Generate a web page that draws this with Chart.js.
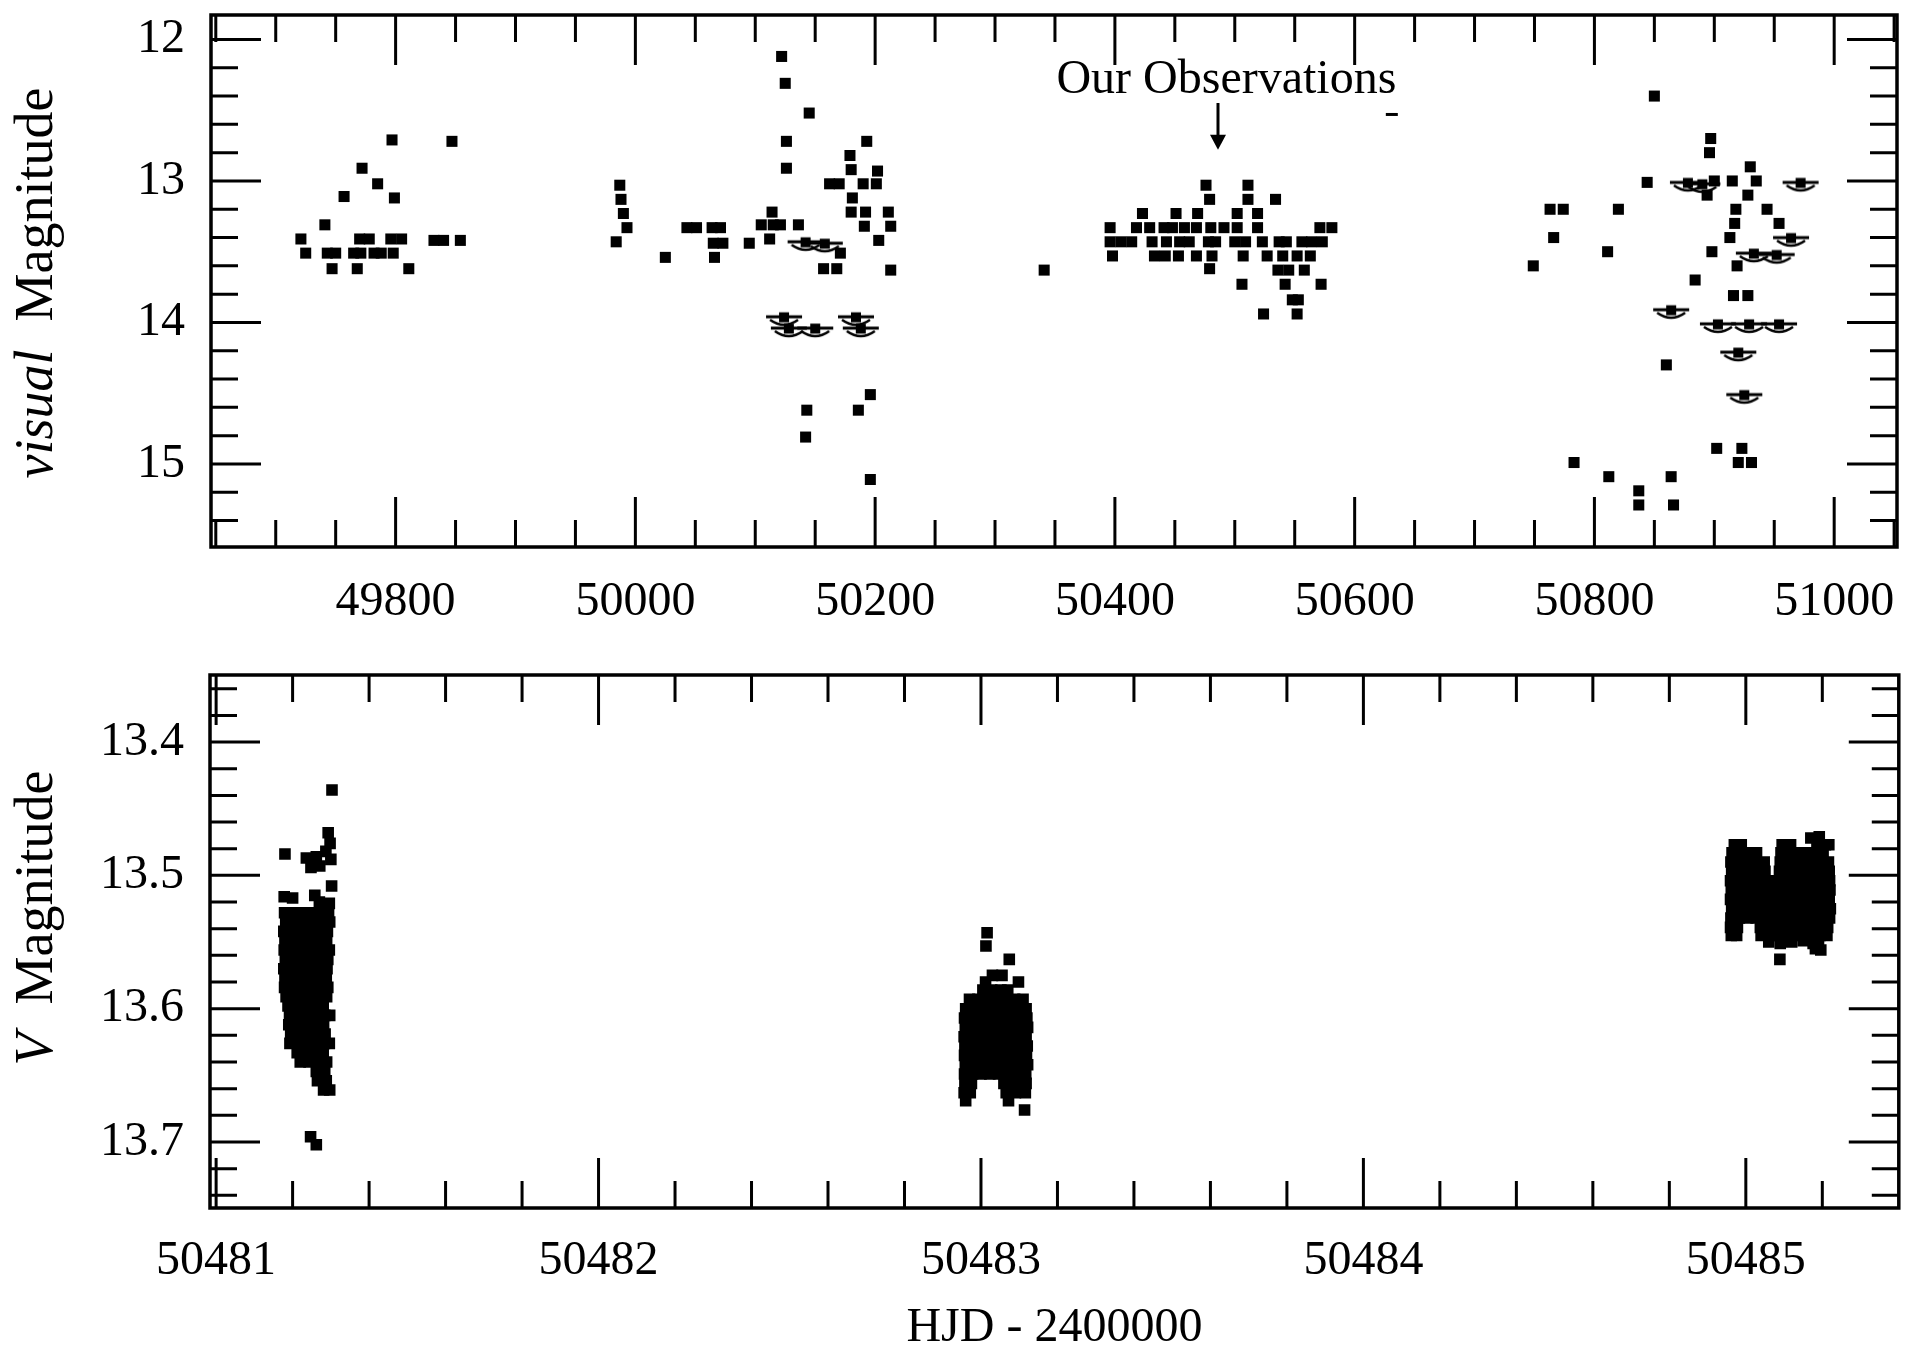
<!DOCTYPE html>
<html>
<head>
<meta charset="utf-8">
<script src="https://cdn.jsdelivr.net/npm/chart.js@4.4.1/dist/chart.umd.min.js"></script>
<style>
  html, body { margin: 0; padding: 0; background: #fff; }
  #wrap { position: relative; width: 1907px; height: 1353px; }
  canvas { position: absolute; left: 0; }
  #top { top: 0; }
  #bottom { top: 650px; }
</style>
</head>
<body>
<div id="wrap">
  <canvas id="top" width="1907" height="650"></canvas>
  <canvas id="bottom" width="1907" height="703"></canvas>
</div>
<script>
// visual estimates, HJD - 2400000
let visualHjd = [
  49797, 49847, 49772, 49785, 49757, 49799, 49741,
  49721, 49770, 49778, 49796, 49805, 49832, 49840, 49854,
  49725, 49743, 49750, 49765, 49771, 49782, 49788, 49798,
  49747, 49768, 49811,
  49987, 49988, 49990, 49993, 49984, 50025, 50043, 50051, 50064, 50071, 50065, 50073, 50095, 50066,
  50122, 50125, 50145, 50126, 50126, 50193, 50179, 50180, 50202,
  50162, 50170, 50190, 50201, 50181, 50114, 50180, 50192, 50211,
  50105, 50115, 50121, 50136, 50191, 50213, 50112, 50203, 50171, 50157, 50168, 50213,
  50196, 50143, 50186, 50142, 50196, 50341,
  50476, 50511, 50479, 50511, 50534,
  50423, 50451, 50469, 50502, 50519,
  50396, 50418, 50429, 50441, 50448, 50458, 50468, 50480, 50491, 50502, 50519, 50571, 50581,
  50396, 50405, 50414, 50431, 50443, 50454, 50462, 50478, 50484, 50500, 50509, 50523, 50537, 50543, 50556, 50564, 50573,
  50398, 50433, 50442, 50453, 50468, 50481, 50507, 50527, 50540, 50552, 50563,
  50479, 50536, 50545, 50558, 50506, 50542, 50572, 50548, 50553, 50524, 50552,
  50850, 50897, 50896, 50930, 50844, 50900, 50915, 50935, 50894, 50928,
  50763, 50774, 50820, 50918, 50944, 50917, 50954, 50766, 50913, 50811, 50898,
  50749, 50919, 50884, 50916, 50928, 50860,
  50902, 50923, 50783, 50920, 50931, 50812, 50864, 50837, 50837, 50866
];
let visualMag = [
  12.71, 12.72, 12.91, 13.02, 13.11, 13.12, 13.31,
  13.41, 13.41, 13.41, 13.41, 13.41, 13.42, 13.42, 13.42,
  13.51, 13.51, 13.51, 13.51, 13.51, 13.51, 13.51, 13.51,
  13.62, 13.62, 13.62,
  13.03, 13.13, 13.23, 13.33, 13.43, 13.54, 13.33, 13.33, 13.33, 13.33, 13.44, 13.44, 13.44, 13.54,
  12.12, 12.31, 12.52, 12.72, 12.91, 12.72, 12.82, 12.92, 12.93,
  13.02, 13.02, 13.02, 13.02, 13.12, 13.22, 13.22, 13.22, 13.22,
  13.31, 13.31, 13.31, 13.31, 13.32, 13.32, 13.41, 13.42, 13.51, 13.62, 13.62, 13.63,
  14.51, 14.62, 14.62, 14.81, 15.11, 13.63,
  13.03, 13.03, 13.13, 13.13, 13.13,
  13.23, 13.23, 13.23, 13.23, 13.23,
  13.33, 13.33, 13.33, 13.33, 13.33, 13.33, 13.33, 13.33, 13.33, 13.33, 13.33, 13.33, 13.33,
  13.43, 13.43, 13.43, 13.43, 13.43, 13.43, 13.43, 13.43, 13.43, 13.43, 13.43, 13.43, 13.43, 13.43, 13.43, 13.43, 13.43,
  13.53, 13.53, 13.53, 13.53, 13.53, 13.53, 13.53, 13.53, 13.53, 13.53, 13.53,
  13.62, 13.63, 13.63, 13.63, 13.73, 13.73, 13.73, 13.84, 13.84, 13.94, 13.94,
  12.40, 12.70, 12.80, 12.90, 13.01, 13.00, 13.00, 13.00, 13.10, 13.10,
  13.20, 13.20, 13.20, 13.20, 13.20, 13.30, 13.30, 13.40, 13.40, 13.50, 13.50,
  13.60, 13.60, 13.70, 13.81, 13.81, 14.30,
  14.89, 14.89, 14.99, 14.99, 14.99, 15.09, 15.09, 15.19, 15.29, 15.29
];

// "fainter than" estimates
let limitHjd = [
  50142, 50158,
  50124, 50128, 50150, 50184, 50188,
  50878, 50890, 50972, 50964, 50933, 50952, 50864,
  50903, 50929, 50954, 50920, 50925
];
let limitMag = [
  13.43, 13.44,
  13.96, 14.04, 14.04, 13.96, 14.04,
  13.01, 13.02, 13.01, 13.40, 13.51, 13.52, 13.91,
  14.01, 14.01, 14.01, 14.21, 14.51
];

// V photometry, three nights
let night1Hjd = [
  50481.303,
  50481.293, 50481.298, 50481.287,
  50481.180, 50481.236, 50481.262, 50481.300,
  50481.248, 50481.271, 50481.302,
  50481.178, 50481.200, 50481.258, 50481.270, 50481.296,
  50481.179, 50481.203, 50481.228, 50481.252, 50481.276, 50481.294,
  50481.182, 50481.206, 50481.231, 50481.255, 50481.279, 50481.297,
  50481.177, 50481.200, 50481.224, 50481.249, 50481.273, 50481.291,
  50481.180, 50481.205, 50481.229, 50481.254, 50481.277, 50481.289,
  50481.178, 50481.202, 50481.226, 50481.251, 50481.275, 50481.296,
  50481.181, 50481.204, 50481.228, 50481.253, 50481.278, 50481.292,
  50481.177, 50481.201, 50481.225, 50481.250, 50481.274, 50481.290,
  50481.180, 50481.203, 50481.229, 50481.252, 50481.276, 50481.288,
  50481.179, 50481.206, 50481.230, 50481.255, 50481.279, 50481.292,
  50481.183, 50481.204, 50481.227, 50481.251, 50481.275, 50481.289,
  50481.188, 50481.210, 50481.233, 50481.257, 50481.280,
  50481.192, 50481.214, 50481.237, 50481.260, 50481.284, 50481.297,
  50481.190, 50481.212, 50481.236, 50481.259, 50481.281,
  50481.195, 50481.218, 50481.240, 50481.262, 50481.285,
  50481.193, 50481.215, 50481.238, 50481.261, 50481.283, 50481.296,
  50481.212, 50481.235, 50481.258, 50481.280,
  50481.220, 50481.243, 50481.266, 50481.289,
  50481.262, 50481.284, 50481.265, 50481.288,
  50481.281, 50481.297, 50481.247, 50481.262
];
let night1Mag = [
  13.436,
  13.468, 13.476, 13.482,
  13.484, 13.487, 13.486, 13.488,
  13.494, 13.493, 13.508,
  13.516, 13.517, 13.515, 13.520, 13.521,
  13.528, 13.528, 13.528, 13.528, 13.528, 13.528,
  13.535, 13.535, 13.535, 13.535, 13.535, 13.535,
  13.542, 13.542, 13.542, 13.542, 13.542, 13.542,
  13.549, 13.549, 13.549, 13.549, 13.549, 13.549,
  13.556, 13.556, 13.556, 13.556, 13.556, 13.556,
  13.563, 13.563, 13.563, 13.563, 13.563, 13.563,
  13.570, 13.570, 13.570, 13.570, 13.570, 13.570,
  13.577, 13.577, 13.577, 13.577, 13.577, 13.577,
  13.584, 13.584, 13.584, 13.584, 13.584, 13.584,
  13.591, 13.591, 13.591, 13.591, 13.591, 13.591,
  13.598, 13.598, 13.598, 13.598, 13.598,
  13.605, 13.605, 13.605, 13.605, 13.605, 13.605,
  13.612, 13.612, 13.612, 13.612, 13.612,
  13.619, 13.619, 13.619, 13.619, 13.619,
  13.626, 13.626, 13.626, 13.626, 13.626, 13.626,
  13.633, 13.633, 13.633, 13.633,
  13.640, 13.640, 13.640, 13.640,
  13.647, 13.647, 13.654, 13.654,
  13.661, 13.661, 13.696, 13.702
];

let night2Hjd = [
  50483.016, 50483.013, 50483.074,
  50483.030, 50483.055, 50483.012, 50483.098,
  50483.005, 50483.028, 50483.052, 50483.070,
  50482.970, 50482.992, 50483.015, 50483.040, 50483.062, 50483.088, 50483.110,
  50482.960, 50482.982, 50483.005, 50483.028, 50483.050, 50483.074, 50483.097, 50483.118,
  50482.957, 50482.980, 50483.002, 50483.025, 50483.048, 50483.071, 50483.094, 50483.120,
  50482.959, 50482.981, 50483.004, 50483.027, 50483.050, 50483.073, 50483.096, 50483.122,
  50482.956, 50482.979, 50483.001, 50483.024, 50483.047, 50483.070, 50483.093, 50483.118,
  50482.958, 50482.982, 50483.005, 50483.028, 50483.051, 50483.075, 50483.098, 50483.121,
  50482.957, 50482.980, 50483.003, 50483.026, 50483.049, 50483.072, 50483.095, 50483.119,
  50482.959, 50482.983, 50483.006, 50483.029, 50483.052, 50483.076, 50483.099, 50483.122,
  50482.957, 50482.978, 50483.000, 50483.023, 50483.046, 50483.069, 50483.092, 50483.117,
  50482.958, 50482.975, 50483.060, 50483.082, 50483.105, 50483.118,
  50482.956, 50482.972, 50483.066, 50483.090, 50483.116,
  50482.960, 50483.072, 50483.114
];
let night2Mag = [
  13.543, 13.553, 13.563,
  13.575, 13.575, 13.580, 13.580,
  13.586, 13.586, 13.586, 13.586,
  13.593, 13.593, 13.593, 13.593, 13.593, 13.593, 13.593,
  13.600, 13.600, 13.600, 13.600, 13.600, 13.600, 13.600, 13.600,
  13.607, 13.607, 13.607, 13.607, 13.607, 13.607, 13.607, 13.607,
  13.614, 13.614, 13.614, 13.614, 13.614, 13.614, 13.614, 13.614,
  13.621, 13.621, 13.621, 13.621, 13.621, 13.621, 13.621, 13.621,
  13.628, 13.628, 13.628, 13.628, 13.628, 13.628, 13.628, 13.628,
  13.635, 13.635, 13.635, 13.635, 13.635, 13.635, 13.635, 13.635,
  13.642, 13.642, 13.642, 13.642, 13.642, 13.642, 13.642, 13.642,
  13.649, 13.649, 13.649, 13.649, 13.649, 13.649, 13.649, 13.649,
  13.656, 13.656, 13.656, 13.656, 13.656, 13.656,
  13.663, 13.663, 13.663, 13.663, 13.663,
  13.669, 13.669, 13.676
];

let night3Hjd = [
  50485.170, 50485.192,
  50484.970, 50484.988, 50485.095, 50485.117, 50485.186, 50485.208, 50485.217,
  50484.964, 50484.986, 50485.008, 50485.028, 50485.092, 50485.114, 50485.136, 50485.158, 50485.180, 50485.202,
  50484.961, 50484.983, 50485.005, 50485.027, 50485.048, 50485.090, 50485.112, 50485.134, 50485.156, 50485.178, 50485.200, 50485.216,
  50484.963, 50484.985, 50485.007, 50485.029, 50485.050, 50485.088, 50485.110, 50485.132, 50485.154, 50485.176, 50485.198, 50485.218,
  50484.960, 50484.982, 50485.004, 50485.026, 50485.048, 50485.070, 50485.092, 50485.114, 50485.136, 50485.158, 50485.180, 50485.202, 50485.219,
  50484.962, 50484.984, 50485.006, 50485.028, 50485.050, 50485.072, 50485.094, 50485.116, 50485.138, 50485.160, 50485.182, 50485.204, 50485.220,
  50484.960, 50484.982, 50485.004, 50485.026, 50485.048, 50485.070, 50485.092, 50485.114, 50485.136, 50485.158, 50485.180, 50485.202, 50485.218,
  50484.963, 50484.985, 50485.007, 50485.029, 50485.051, 50485.073, 50485.095, 50485.117, 50485.139, 50485.161, 50485.183, 50485.205, 50485.221,
  50484.961, 50484.983, 50485.005, 50485.027, 50485.049, 50485.071, 50485.093, 50485.115, 50485.137, 50485.159, 50485.181, 50485.203, 50485.219,
  50484.960, 50484.978, 50485.038, 50485.060, 50485.082, 50485.104, 50485.126, 50485.148, 50485.170, 50485.192, 50485.214,
  50484.962, 50484.976, 50485.040, 50485.062, 50485.084, 50485.106, 50485.128, 50485.150, 50485.172, 50485.194, 50485.212,
  50485.060, 50485.090, 50485.120, 50485.150, 50485.176, 50485.190, 50485.182, 50485.196, 50485.089
];
let night3Mag = [
  13.472, 13.471,
  13.477, 13.477, 13.477, 13.477, 13.477, 13.477, 13.477,
  13.483, 13.483, 13.483, 13.483, 13.483, 13.483, 13.483, 13.483, 13.483, 13.483,
  13.490, 13.490, 13.490, 13.490, 13.490, 13.490, 13.490, 13.490, 13.490, 13.490, 13.490, 13.490,
  13.497, 13.497, 13.497, 13.497, 13.497, 13.497, 13.497, 13.497, 13.497, 13.497, 13.497, 13.497,
  13.504, 13.504, 13.504, 13.504, 13.504, 13.504, 13.504, 13.504, 13.504, 13.504, 13.504, 13.504, 13.504,
  13.511, 13.511, 13.511, 13.511, 13.511, 13.511, 13.511, 13.511, 13.511, 13.511, 13.511, 13.511, 13.511,
  13.518, 13.518, 13.518, 13.518, 13.518, 13.518, 13.518, 13.518, 13.518, 13.518, 13.518, 13.518, 13.518,
  13.525, 13.525, 13.525, 13.525, 13.525, 13.525, 13.525, 13.525, 13.525, 13.525, 13.525, 13.525, 13.525,
  13.532, 13.532, 13.532, 13.532, 13.532, 13.532, 13.532, 13.532, 13.532, 13.532, 13.532, 13.532, 13.532,
  13.539, 13.539, 13.539, 13.539, 13.539, 13.539, 13.539, 13.539, 13.539, 13.539, 13.539,
  13.545, 13.545, 13.545, 13.545, 13.545, 13.545, 13.545, 13.545, 13.545, 13.545, 13.545,
  13.550, 13.551, 13.550, 13.549, 13.551, 13.550, 13.555, 13.556, 13.563
];

const hjdTicksTop = [49800, 50000, 50200, 50400, 50600, 50800, 51000];
const magTicksTop = [12, 13, 14, 15];
const hjdTicksBottom = [50481, 50482, 50483, 50484, 50485];
const magTicksBottom = [13.4, 13.5, 13.6, 13.7];

const SERIF = '"Liberation Serif", "DejaVu Serif", serif';

function pairs(xs, ys) {
  return xs.map((x, i) => ({ x: x, y: ys[i] }));
}

// fainter-than symbol: bar, block, and a smile underneath
function limitGlyph() {
  const c = document.createElement('canvas');
  c.width = 40;
  c.height = 26;
  const g = c.getContext('2d');
  g.strokeStyle = '#000';
  g.fillStyle = '#000';
  g.lineWidth = 3;
  g.beginPath();
  g.moveTo(2, 13);
  g.lineTo(38, 13);
  g.stroke();
  g.fillRect(15, 8.5, 10, 10);
  g.lineWidth = 2.5;
  g.beginPath();
  g.moveTo(6, 16);
  g.quadraticCurveTo(20, 26, 34, 16);
  g.stroke();
  return c;
}

// frame, inward ticks on all sides, titles and notes
const panelDecor = {
  id: 'panelDecor',
  afterDraw(chart, args, o) {
    const { ctx, chartArea: a, scales: { x, y } } = chart;
    ctx.save();
    ctx.strokeStyle = '#000';
    ctx.fillStyle = '#000';
    ctx.lineCap = 'butt';

    ctx.lineWidth = 3;
    const ticks = (scale, step, major, horiz) => {
      const lo = Math.min(scale.min, scale.max);
      const hi = Math.max(scale.min, scale.max);
      for (let i = Math.ceil(lo / step - 1e-9); i * step <= hi + 1e-9; i++) {
        const v = i * step;
        const isMajor = Math.abs(v / major - Math.round(v / major)) < 1e-4;
        const len = isMajor ? o.majorLen : o.minorLen;
        const p = scale.getPixelForValue(v);
        if (horiz && (p < a.left + 2 || p > a.right - 2)) continue;
        if (!horiz && (p < a.top + 2 || p > a.bottom - 2)) continue;
        ctx.beginPath();
        if (horiz) {
          ctx.moveTo(p, a.bottom); ctx.lineTo(p, a.bottom - len);
          ctx.moveTo(p, a.top); ctx.lineTo(p, a.top + len);
        } else {
          ctx.moveTo(a.left, p); ctx.lineTo(a.left + len, p);
          ctx.moveTo(a.right, p); ctx.lineTo(a.right - len, p);
        }
        ctx.stroke();
      }
    };
    ticks(x, o.xMinor, o.xMajor, true);
    ticks(y, o.yMinor, o.yMajor, false);

    ctx.lineWidth = 3.5;
    ctx.strokeRect(a.left, a.top, a.right - a.left, a.bottom - a.top);

    // rotated y title, italic symbol first
    const t = o.yTitle;
    const tf = t.size + 'px ' + SERIF;
    ctx.save();
    ctx.translate(t.x, t.y);
    ctx.rotate(-Math.PI / 2);
    ctx.textBaseline = 'alphabetic';
    ctx.textAlign = 'left';
    ctx.font = 'italic ' + tf;
    const w1 = ctx.measureText(t.italic).width;
    ctx.font = tf;
    const w2 = ctx.measureText(t.plain).width;
    const start = -(w1 + t.gap + w2) / 2;
    ctx.font = 'italic ' + tf;
    ctx.fillText(t.italic, start, 0);
    ctx.font = tf;
    ctx.fillText(t.plain, start + w1 + t.gap, 0);
    ctx.restore();

    if (o.xTitle) {
      ctx.font = '48px ' + SERIF;
      ctx.textAlign = 'center';
      ctx.textBaseline = 'alphabetic';
      ctx.fillText(o.xTitle.text, (a.left + a.right) / 2, o.xTitle.y);
    }

    if (o.note) {
      const n = o.note;
      ctx.font = '48px ' + SERIF;
      ctx.textAlign = 'center';
      ctx.textBaseline = 'alphabetic';
      ctx.fillText(n.text, x.getPixelForValue(n.textHjd), y.getPixelForValue(n.textMag));

      const ax = x.getPixelForValue(n.arrowHjd);
      const ay0 = y.getPixelForValue(n.arrowFrom);
      const ay1 = y.getPixelForValue(n.arrowTo);
      ctx.lineWidth = 3;
      ctx.beginPath();
      ctx.moveTo(ax, ay0);
      ctx.lineTo(ax, ay1 - 12);
      ctx.stroke();
      ctx.beginPath();
      ctx.moveTo(ax, ay1);
      ctx.lineTo(ax - 8, ay1 - 15);
      ctx.lineTo(ax + 8, ay1 - 15);
      ctx.closePath();
      ctx.fill();

      const dx = x.getPixelForValue(n.dashHjd);
      const dy = y.getPixelForValue(n.dashMag);
      ctx.beginPath();
      ctx.moveTo(dx - 6, dy);
      ctx.lineTo(dx + 6, dy);
      ctx.stroke();
    }
    ctx.restore();
  }
};

function axisTicks(values) {
  return scale => { scale.ticks = values.map(v => ({ value: v })); };
}

function baseOptions(cfg) {
  return {
    responsive: false,
    animation: false,
    events: [],
    layout: { padding: { left: 0, right: 6, top: cfg.padTop, bottom: 0 } },
    plugins: {
      legend: { display: false },
      tooltip: { enabled: false },
      panelDecor: cfg.decor
    },
    scales: {
      x: {
        type: 'linear',
        min: cfg.xMin,
        max: cfg.xMax,
        grid: { display: false, drawTicks: false },
        border: { display: false },
        afterBuildTicks: axisTicks(cfg.xTicks),
        afterFit: s => { s.height = cfg.xHeight; s.paddingLeft = 0; s.paddingRight = 0; },
        ticks: {
          color: '#000',
          font: { family: SERIF, size: 48 },
          padding: cfg.xPad,
          maxRotation: 0,
          autoSkip: false,
          callback: v => String(v)
        }
      },
      y: {
        type: 'linear',
        reverse: true,
        min: cfg.yMin,
        max: cfg.yMax,
        grid: { display: false, drawTicks: false },
        border: { display: false },
        afterBuildTicks: axisTicks(cfg.yTicks),
        afterFit: s => { s.width = cfg.yWidth; s.paddingTop = 0; s.paddingBottom = 0; },
        ticks: {
          color: '#000',
          font: { family: SERIF, size: 48 },
          padding: 26,
          autoSkip: false,
          callback: cfg.yFormat
        }
      }
    }
  };
}

const square = { pointStyle: 'rect', pointRadius: 7.8, backgroundColor: '#000', borderWidth: 0 };
const denseSquare = { pointStyle: 'rect', pointRadius: 8.2, backgroundColor: '#000', borderWidth: 0 };

new Chart(document.getElementById('top'), {
  type: 'scatter',
  data: {
    datasets: [
      Object.assign({ data: pairs(visualHjd, visualMag) }, square),
      { data: pairs(limitHjd, limitMag), pointStyle: limitGlyph(), pointRadius: 10, borderWidth: 0 }
    ]
  },
  options: baseOptions({
    padTop: 15, xHeight: 103, yWidth: 211, xPad: 27,
    xMin: 49646, xMax: 51052.4, yMin: 11.827, yMax: 15.587,
    xTicks: hjdTicksTop, yTicks: magTicksTop,
    yFormat: v => String(v),
    decor: {
      majorLen: 50, minorLen: 27,
      xMinor: 50, xMajor: 200, yMinor: 0.2, yMajor: 1,
      yTitle: { x: 52, y: 283, size: 54, italic: 'visual', plain: 'Magnitude', gap: 28 },
      note: {
        text: 'Our Observations', textHjd: 50493, textMag: 12.378,
        arrowHjd: 50486, arrowFrom: 12.449, arrowTo: 12.78,
        dashHjd: 50631, dashMag: 12.53
      }
    }
  }),
  plugins: [panelDecor]
});

new Chart(document.getElementById('bottom'), {
  type: 'scatter',
  data: {
    datasets: [
      Object.assign({ data: pairs(night1Hjd, night1Mag) }, denseSquare),
      Object.assign({ data: pairs(night2Hjd, night2Mag) }, denseSquare),
      Object.assign({ data: pairs(night3Hjd, night3Mag) }, denseSquare)
    ]
  },
  options: baseOptions({
    padTop: 25, xHeight: 145, yWidth: 210, xPad: 25,
    xMin: 50480.984, xMax: 50485.40, yMin: 13.3497, yMax: 13.7495,
    xTicks: hjdTicksBottom, yTicks: magTicksBottom,
    yFormat: v => v.toFixed(1),
    decor: {
      majorLen: 50, minorLen: 27,
      xMinor: 0.2, xMajor: 1, yMinor: 0.02, yMajor: 0.1,
      yTitle: { x: 52, y: 268, size: 54, italic: 'V', plain: 'Magnitude', gap: 28 },
      xTitle: { text: 'HJD - 2400000', y: 691 }
    }
  }),
  plugins: [panelDecor]
});
</script>
</body>
</html>
